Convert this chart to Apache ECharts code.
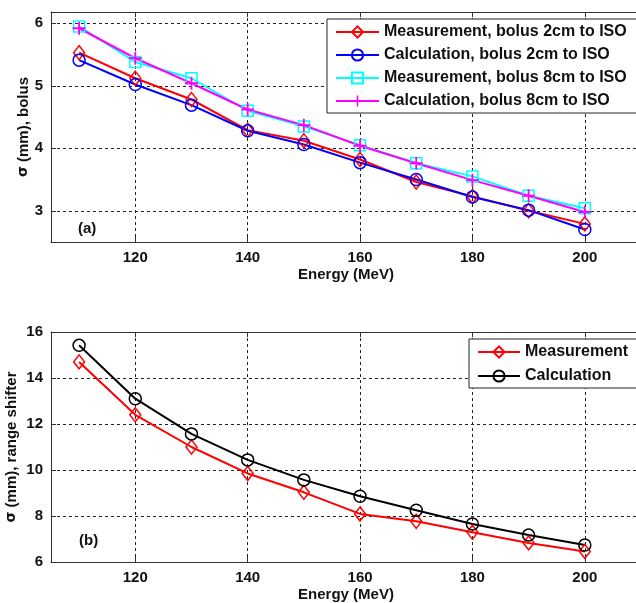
<!DOCTYPE html>
<html>
<head>
<meta charset="utf-8">
<script src="https://cdn.jsdelivr.net/npm/echarts@6/dist/echarts.min.js"></script>
<style>
  html, body { margin: 0; padding: 0; background: #fff; }
  #chart { width: 636px; height: 603px; }
</style>
</head>
<body>
<div id="chart"></div>
<script>
// 能量 (MeV)
const energies = [110, 120, 130, 140, 150, 160, 170, 180, 190, 200]
const xTicks = [120, 140, 160, 180, 200]

// (a) bolus
const meas2cm = [5.53, 5.12, 4.78, 4.29, 4.12, 3.82, 3.46, 3.23, 3.00, 2.79]
const calc2cm = [5.41, 5.02, 4.69, 4.28, 4.06, 3.77, 3.50, 3.22, 3.01, 2.70]
const meas8cm = [5.95, 5.38, 5.12, 4.60, 4.35, 4.05, 3.76, 3.55, 3.24, 3.04]
const calc8cm = [5.92, 5.44, 5.04, 4.62, 4.37, 4.04, 3.76, 3.49, 3.24, 2.98]
const yTicksA = [3, 4, 5, 6]

// (b) range shifter
const measRS = [14.70, 12.40, 11.00, 9.85, 9.03, 8.09, 7.77, 7.29, 6.83, 6.46]
const calcRS = [15.42, 13.10, 11.57, 10.44, 9.57, 8.86, 8.25, 7.65, 7.17, 6.74]

const font = 'Arial, "Liberation Sans", sans-serif'
const ink = '#111'

const pairs = (ys) => energies.map((x, i) => [x, ys[i]])

const chart = echarts.init(document.getElementById('chart'))

// 坐标轴公共样式
const gridLine = { show: true, lineStyle: { color: '#222', type: [3, 3], width: 1 } }
const axisLine = { show: true, lineStyle: { color: '#333', width: 1 } }
const tickIn = (vals) => ({ show: true, inside: true, length: 5, lineStyle: { color: '#333' }, customValues: vals })
const label = { color: ink, fontFamily: font, fontWeight: 'bold', fontSize: 15 }

const xBottom = (gi) => ({
  gridIndex: gi, type: 'value', min: 105, max: 210,
  axisLine, axisTick: tickIn(xTicks), splitLine: gridLine,
  axisLabel: { ...label, margin: 8, customValues: xTicks },
  name: 'Energy (MeV)', nameLocation: 'middle', nameGap: 25, nameMoveOverlap: false,
  nameTextStyle: label
})
const xTop = (gi) => ({
  gridIndex: gi, type: 'value', min: 105, max: 210, position: 'top',
  axisLine, axisTick: tickIn(xTicks), splitLine: { show: false }, axisLabel: { show: false }
})

const yName = (txt, gap) => ({
  name: '{s|σ} ' + txt, nameLocation: 'middle', nameGap: gap, nameMoveOverlap: false,
  nameTextStyle: { ...label, rich: { s: { fontFamily: 'DejaVu Sans', fontSize: 14, color: ink } } }
})

// 空心标记
const hollow = (c) => ({ color: 'rgba(255,255,255,0)', borderColor: c, borderWidth: 1.5 })
const plus = 'path://M4.3,0H5.7V4.3H10V5.7H5.7V10H4.3V5.7H0V4.3H4.3Z'

const line = (name, ys, color, symbol, size, xi, yi, filled) => ({
  name, type: 'line', xAxisIndex: xi, yAxisIndex: yi,
  data: pairs(ys), color,
  symbol, symbolSize: size, showAllSymbol: true,
  lineStyle: { color, width: 2 },
  itemStyle: filled ? { color, borderWidth: 0 } : hollow(color),
  emphasis: { disabled: true }, animation: false
})

const legendBase = {
  orient: 'vertical', itemWidth: 43, itemHeight: 14, itemGap: 7,
  backgroundColor: '#fff', borderColor: '#222', borderWidth: 1,
  textStyle: { ...label, fontSize: 16, lineHeight: 16 }, selectedMode: false
}

chart.setOption({
  backgroundColor: '#fff',
  animation: false,
  grid: [
    { left: 51, width: 590, top: 12, height: 230, show: false, outerBoundsMode: 'none' },
    { left: 51, width: 590, top: 332, height: 230, show: false, outerBoundsMode: 'none' }
  ],
  xAxis: [xBottom(0), xTop(0), xBottom(1), xTop(1)],
  yAxis: [
    { gridIndex: 0, type: 'value', min: 2.5, max: 6.18,
      axisLine, axisTick: tickIn(yTicksA), splitLine: gridLine,
      axisLabel: { ...label, margin: 8, customValues: yTicksA },
      ...yName('(mm), bolus', 20) },
    { gridIndex: 1, type: 'value', min: 6, max: 16, interval: 2,
      axisLine, axisTick: { show: true, inside: true, length: 5, lineStyle: { color: '#333' } },
      splitLine: gridLine, axisLabel: { ...label, margin: 8 },
      ...yName('(mm), range shifter', 32) }
  ],
  legend: [
    { ...legendBase, left: 327, top: 19, padding: [5, 12, 4, 8],
      data: ['Measurement, bolus 2cm to ISO', 'Calculation, bolus 2cm to ISO',
             'Measurement, bolus 8cm to ISO', 'Calculation, bolus 8cm to ISO'] },
    { ...legendBase, left: 469, top: 339, padding: [5, 20, 4, 8], itemWidth: 42, itemGap: 8,
      data: ['Measurement', 'Calculation'] }
  ],
  graphic: [
    { type: 'text', left: 78, top: 221, style: { text: '(a)', font: 'bold 15px ' + font, fill: ink } },
    { type: 'text', left: 79, top: 533, style: { text: '(b)', font: 'bold 15px ' + font, fill: ink } }
  ],
  series: [
    line('Measurement, bolus 2cm to ISO', meas2cm, '#ff0000', 'diamond', [11, 14], 0, 0),
    line('Calculation, bolus 2cm to ISO', calc2cm, '#0000ff', 'circle', 12, 0, 0),
    line('Measurement, bolus 8cm to ISO', meas8cm, '#00ffff', 'rect', 11, 0, 0),
    line('Calculation, bolus 8cm to ISO', calc8cm, '#ff00ff', plus, 13, 0, 0, true),
    line('Measurement', measRS, '#ff0000', 'diamond', [11, 14], 2, 1),
    line('Calculation', calcRS, '#000000', 'circle', 12, 2, 1)
  ]
})
</script>
</body>
</html>
